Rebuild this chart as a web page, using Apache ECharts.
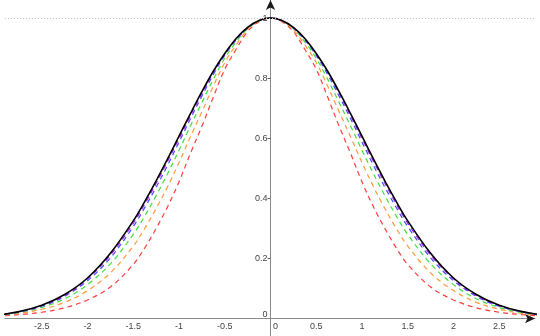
<!DOCTYPE html>
<html>
<head>
<meta charset="utf-8">
<script src="https://cdn.jsdelivr.net/npm/echarts@6/dist/echarts.min.js"></script>
<style>
html, body { margin: 0; padding: 0; background: #fff; }
#chart { width: 540px; height: 336px; }
</style>
</head>
<body>
<div id="chart"></div>
<script>
// x positions of the sampled points (denser near the peak)
var xs = [-3, -2.75, -2.5, -2.25, -2, -1.75, -1.5, -1.375, -1.25, -1.125, -1, -0.875, -0.75, -0.625,
          -0.5, -0.375, -0.25, -0.125, 0, 0.125, 0.25, 0.375, 0.5, 0.625, 0.75, 0.875, 1, 1.125,
          1.25, 1.375, 1.5, 1.75, 2, 2.25, 2.5, 2.75, 3];

// solid black curve
var blackVals = [0.011, 0.023, 0.044, 0.080, 0.135, 0.217, 0.325, 0.389, 0.458, 0.531, 0.607, 0.682, 0.755, 0.823,
                 0.882, 0.932, 0.969, 0.992, 1, 0.992, 0.969, 0.932, 0.882, 0.823, 0.755, 0.682, 0.607, 0.531,
                 0.458, 0.389, 0.325, 0.217, 0.135, 0.080, 0.044, 0.023, 0.011];
// dashed curves, narrowest first
var redVals = [0.008, 0.013, 0.021, 0.036, 0.062, 0.105, 0.18, 0.235, 0.30, 0.372, 0.455, 0.550, 0.64, 0.737,
               0.83, 0.896, 0.955, 0.988, 1, 0.988, 0.955, 0.896, 0.83, 0.737, 0.64, 0.550, 0.455, 0.372,
               0.30, 0.235, 0.18, 0.105, 0.062, 0.036, 0.021, 0.013, 0.008];
var orangeVals = [0.009, 0.017, 0.031, 0.054, 0.093, 0.152, 0.241, 0.300, 0.366, 0.439, 0.519, 0.605, 0.688, 0.773,
                  0.852, 0.911, 0.961, 0.990, 1, 0.990, 0.961, 0.911, 0.852, 0.773, 0.688, 0.605, 0.519, 0.439,
                  0.366, 0.300, 0.241, 0.152, 0.093, 0.054, 0.031, 0.017, 0.009];
var greenVals = [0.010, 0.020, 0.037, 0.066, 0.113, 0.182, 0.280, 0.341, 0.409, 0.482, 0.560, 0.641, 0.719, 0.796,
                 0.866, 0.921, 0.965, 0.991, 1, 0.991, 0.965, 0.921, 0.866, 0.796, 0.719, 0.641, 0.560, 0.482,
                 0.409, 0.341, 0.280, 0.182, 0.113, 0.066, 0.037, 0.020, 0.010];
var blueVals = [0.011, 0.022, 0.041, 0.074, 0.126, 0.202, 0.306, 0.369, 0.437, 0.510, 0.587, 0.665, 0.740, 0.812,
                0.876, 0.927, 0.967, 0.991, 1, 0.991, 0.967, 0.927, 0.876, 0.812, 0.740, 0.665, 0.587, 0.510,
                0.437, 0.369, 0.306, 0.202, 0.126, 0.074, 0.041, 0.022, 0.011];
var purpleVals = [0.011, 0.022, 0.043, 0.077, 0.132, 0.211, 0.317, 0.381, 0.450, 0.523, 0.599, 0.675, 0.749, 0.819,
                  0.880, 0.930, 0.968, 0.992, 1, 0.992, 0.968, 0.930, 0.880, 0.819, 0.749, 0.675, 0.599, 0.523,
                  0.450, 0.381, 0.317, 0.211, 0.132, 0.077, 0.043, 0.022, 0.011];

// tick labels
var xTicks = [-2.5, -2, -1.5, -1, -0.5, 0, 0.5, 1, 1.5, 2, 2.5];
var yTicks = [0, 0.2, 0.4, 0.6, 0.8, 1];

var xMin = -2.902, xMax = 2.891;
var yMin = -0.058, yMax = 1.06;

function pairs(vals) {
    return xs.map(function (x, i) { return [x, vals[i]]; });
}

function dashed(name, color, vals) {
    return {
        name: name,
        type: 'line',
        data: pairs(vals),
        smooth: 0.35,
        symbol: 'none',
        lineStyle: { color: color, width: 1.2, type: [5, 4] },
        z: 2
    };
}

var W = 540, H = 336, gl = 5, gr = 5;
// shift the axes so they cross at (0, 0), like the picture
var yAxisOffset = -(W - gl - gr) * (0 - xMin) / (xMax - xMin);
var xAxisOffset = -H * (0 - yMin) / (yMax - yMin);

// second, invisible axis on top of each one, only to draw a dark arrow head
function arrowAxis(pos, offset, min, max) {
    return {
        type: 'value', min: min, max: max, position: pos, offset: offset,
        axisLine: {
            onZero: false,
            symbol: ['none', 'arrow'],
            symbolSize: [7, 10],
            lineStyle: { color: '#1a1a1a', width: 0 }
        },
        axisTick: { show: false },
        axisLabel: { show: false },
        splitLine: { show: false }
    };
}

var chart = echarts.init(document.getElementById('chart'));
chart.setOption({
    animation: false,
    textStyle: { fontFamily: 'Liberation Sans, Arial, sans-serif' },
    grid: { left: gl, right: gr, top: 0, bottom: 0, outerBoundsMode: 'none' },
    xAxis: [{
        type: 'value',
        min: xMin,
        max: xMax,
        position: 'bottom',
        offset: xAxisOffset,
        axisLine: {
            onZero: false,
            lineStyle: { color: '#8a8a8a', width: 1 }
        },
        axisTick: { show: false },
        axisLabel: {
            customValues: xTicks,
            margin: 3,
            fontSize: 9,
            color: '#444',
            formatter: function (v) { return v === 0 ? '{z|0}' : String(v); },
            rich: { z: { fontSize: 9, color: '#444', padding: [0, 0, 0, 10] } }
        },
        splitLine: { show: false }
    }, arrowAxis('bottom', xAxisOffset, xMin, xMax)],
    yAxis: [{
        type: 'value',
        min: yMin,
        max: yMax,
        position: 'left',
        offset: yAxisOffset,
        axisLine: {
            onZero: false,
            lineStyle: { color: '#8a8a8a', width: 1 }
        },
        axisTick: { customValues: yTicks.slice(1), length: 3, lineStyle: { color: '#666' } },
        axisLabel: {
            customValues: yTicks,
            margin: 3,
            fontSize: 9,
            color: '#444',
            formatter: function (v) { return v === 0 ? '{z|0}' : String(v); },
            rich: { z: { fontSize: 9, color: '#444', padding: [0, 0, 8, 0] } }
        },
        splitLine: { show: false }
    }, arrowAxis('left', yAxisOffset, yMin, yMax)],
    series: [
        dashed('red', '#ff3b3b', redVals),
        dashed('orange', '#ff9a3c', orangeVals),
        dashed('green', '#3ee03e', greenVals),
        dashed('blue', '#4a4aff', blueVals),
        dashed('purple', '#a020f0', purpleVals),
        {
            name: 'black',
            type: 'line',
            data: pairs(blackVals),
            smooth: 0.35,
            symbol: 'none',
            lineStyle: { color: '#000', width: 1.6 },
            z: 3,
            markLine: {
                silent: true,
                symbol: 'none',
                label: { show: false },
                lineStyle: { color: '#c4c4c4', width: 1, type: [1, 2] },
                data: [{ yAxis: 1 }]
            }
        }
    ]
});
</script>
</body>
</html>
